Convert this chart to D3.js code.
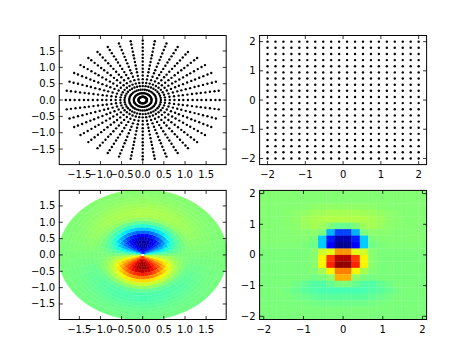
<!DOCTYPE html>
<html>
<head>
<meta charset="utf-8">
<script src="https://cdn.jsdelivr.net/npm/d3@7"></script>
<style>
  body { margin: 0; background: #fff; }
  text { font-family: "DejaVu Sans", sans-serif; font-size: 10px; fill: #000; }
</style>
</head>
<body>
<svg id="fig" width="474" height="355"></svg>
<script>
// ---- data ----
// polar sample grid (top left)
const polarRadii = [0.10, 0.21, 0.32, 0.43, 0.53, 0.64, 0.75, 0.86, 0.96, 1.07, 1.18, 1.29, 1.39, 1.50, 1.61, 1.72, 1.82]
const polarAnglesDeg = [0, 9, 18, 27, 36, 45, 54, 63, 72, 81, 90, 99, 108, 117, 126, 135, 144, 153, 162, 171,
                        180, 189, 198, 207, 216, 225, 234, 243, 252, 261, 270, 279, 288, 297, 306, 315, 324, 333, 342, 351]
// regular grid (top right), same values for x and y
const gridCoords = [-2.000, -1.789, -1.579, -1.368, -1.158, -0.947, -0.737, -0.526, -0.316, -0.105,
                    0.105, 0.316, 0.526, 0.737, 0.947, 1.158, 1.368, 1.579, 1.789, 2.000]
// tick labels
const polarTicks = [-1.5, -1.0, -0.5, 0.0, 0.5, 1.0, 1.5]
const gridTicks = [-2, -1, 0, 1, 2]
// value along the +y direction of the polar field (bottom left); the field goes as profile * sin(angle)
const colourRadii = [0.1, 0.2, 0.3, 0.4, 0.5, 0.6, 0.7, 0.8, 0.9, 1.0, 1.1, 1.2, 1.3, 1.4, 1.5, 1.6, 1.7, 1.8, 1.9]
const colourProfile = [-0.75, -0.9, -0.95, -0.96, -0.9, -0.76, -0.56, -0.36, -0.2, -0.06,
                       0.06, 0.11, 0.12, 0.11, 0.09, 0.07, 0.05, 0.04, 0.03]
// cell values on the regular grid (bottom right), rows from top (y=2) to bottom (y=-2)
const gridValues = [
  [0.02,0.02,0.02,0.02,0.02,0.02,0.02,0.02,0.02,0.02,0.02,0.02,0.02,0.02,0.02,0.02,0.02,0.02,0.02,0.02],
  [0.02,0.02,0.02,0.02,0.02,0.02,0.02,0.02,0.02,0.02,0.02,0.02,0.02,0.02,0.02,0.02,0.02,0.02,0.02,0.02],
  [0.02,0.02,0.02,0.02,0.02,0.03,0.04,0.05,0.05,0.05,0.05,0.05,0.05,0.04,0.03,0.02,0.02,0.02,0.02,0.02],
  [0.02,0.02,0.02,0.03,0.04,0.06,0.08,0.09,0.10,0.10,0.10,0.10,0.09,0.08,0.06,0.04,0.03,0.02,0.02,0.02],
  [0.02,0.02,0.02,0.03,0.05,0.08,0.10,0.12,0.13,0.13,0.13,0.13,0.12,0.10,0.08,0.05,0.03,0.02,0.02,0.02],
  [0.02,0.02,0.02,0.03,0.04,0.07,0.10,0.08,0.00,-0.05,-0.05,0.00,0.08,0.10,0.07,0.04,0.03,0.02,0.02,0.02],
  [0.02,0.02,0.02,0.02,0.03,0.03,0.04,0.00,-0.40,-0.62,-0.62,-0.40,0.00,0.04,0.03,0.03,0.02,0.02,0.02,0.02],
  [0.02,0.02,0.02,0.02,0.02,0.02,0.00,-0.35,-0.70,-0.92,-0.92,-0.70,-0.35,0.00,0.02,0.02,0.02,0.02,0.02,0.02],
  [0.01,0.01,0.01,0.01,0.01,0.00,-0.03,-0.35,-0.75,-0.97,-0.97,-0.75,-0.35,-0.03,0.00,0.01,0.01,0.01,0.01,0.01],
  [0.00,0.00,0.00,0.00,0.00,0.00,0.03,0.20,0.25,0.50,0.50,0.25,0.20,0.03,0.00,0.00,0.00,0.00,0.00,0.00],
  [0.00,0.00,0.00,0.00,0.00,0.00,0.03,0.30,0.70,0.90,0.90,0.70,0.30,0.03,0.00,0.00,0.00,0.00,0.00,0.00],
  [0.00,0.00,0.00,0.00,0.00,0.00,0.03,0.30,0.75,0.97,0.97,0.75,0.30,0.03,0.00,0.00,0.00,0.00,0.00,0.00],
  [0.00,0.00,0.00,0.00,0.00,0.00,0.02,0.10,0.30,0.55,0.55,0.30,0.10,0.02,0.00,0.00,0.00,0.00,0.00,0.00],
  [0.00,0.00,0.00,0.00,0.00,0.00,-0.02,0.00,0.05,0.45,0.45,0.05,0.00,-0.02,0.00,0.00,0.00,0.00,0.00,0.00],
  [0.00,0.00,0.00,0.00,-0.03,-0.06,-0.10,-0.10,-0.05,0.00,0.00,-0.05,-0.10,-0.10,-0.06,-0.03,0.00,0.00,0.00,0.00],
  [0.00,0.00,0.00,-0.02,-0.05,-0.08,-0.10,-0.12,-0.13,-0.13,-0.13,-0.13,-0.12,-0.10,-0.08,-0.05,-0.02,0.00,0.00,0.00],
  [0.00,0.00,0.00,0.00,-0.02,-0.04,-0.06,-0.08,-0.08,-0.08,-0.08,-0.08,-0.08,-0.06,-0.04,-0.02,0.00,0.00,0.00,0.00],
  [0.00,0.00,0.00,0.00,0.00,-0.01,-0.02,-0.03,-0.03,-0.03,-0.03,-0.03,-0.03,-0.02,-0.01,0.00,0.00,0.00,0.00,0.00],
  [0.00,0.00,0.00,0.00,0.00,0.00,0.00,0.00,0.00,0.00,0.00,0.00,0.00,0.00,0.00,0.00,0.00,0.00,0.00,0.00],
  [0.00,0.00,0.00,0.00,0.00,0.00,0.00,0.00,0.00,0.00,0.00,0.00,0.00,0.00,0.00,0.00,0.00,0.00,0.00,0.00]
]

// ---- layout ----
const svg = d3.select("#fig")
const polarLim = 1.975
const gridLim = 2.21
const cellLim = 2.105

// matplotlib "jet"
const jetR = d3.scaleLinear().domain([0, 0.35, 0.66, 0.89, 1]).range([0, 0, 1, 1, 0.5]).clamp(true)
const jetG = d3.scaleLinear().domain([0, 0.125, 0.375, 0.64, 0.91, 1]).range([0, 0, 1, 1, 0, 0]).clamp(true)
const jetB = d3.scaleLinear().domain([0, 0.11, 0.34, 0.65, 1]).range([0.5, 1, 1, 0, 0]).clamp(true)
const colourT = d3.scaleLinear().domain([-1, 1]).range([0, 1]).clamp(true)
function jet(v) {
    const t = colourT(v)
    return d3.rgb(jetR(t) * 255, jetG(t) * 255, jetB(t) * 255).formatHex()
}

function makePanel(id, box, lim, ticks, fmt) {
    const x = d3.scaleLinear().domain([-lim[0], lim[0]]).range([box.x0, box.x1])
    const y = d3.scaleLinear().domain([-lim[1], lim[1]]).range([box.y1, box.y0])
    svg.append("clipPath").attr("id", "clip-" + id)
       .append("rect")
       .attr("x", box.x0).attr("y", box.y0)
       .attr("width", box.x1 - box.x0).attr("height", box.y1 - box.y0)
    const plot = svg.append("g").attr("clip-path", "url(#clip-" + id + ")")
    return { x: x, y: y, box: box, plot: plot, ticks: ticks, fmt: fmt }
}

function drawFrame(p) {
    const b = p.box, tl = 3.5
    const g = svg.append("g")
    p.ticks.forEach(function (v) {
        const px = p.x(v), py = p.y(v)
        g.append("line").attr("x1", px).attr("x2", px).attr("y1", b.y1).attr("y2", b.y1 - tl)
        g.append("line").attr("x1", px).attr("x2", px).attr("y1", b.y0).attr("y2", b.y0 + tl)
        g.append("line").attr("y1", py).attr("y2", py).attr("x1", b.x0).attr("x2", b.x0 + tl)
        g.append("line").attr("y1", py).attr("y2", py).attr("x1", b.x1).attr("x2", b.x1 - tl)
        g.append("text").attr("x", px).attr("y", b.y1 + 13)
         .attr("text-anchor", "middle").text(p.fmt(v))
        g.append("text").attr("x", b.x0 - 4).attr("y", py)
         .attr("text-anchor", "end").attr("dominant-baseline", "central").text(p.fmt(v))
    })
    g.selectAll("line").attr("stroke", "#000").attr("stroke-width", 0.8)
    g.append("rect")
     .attr("x", b.x0).attr("y", b.y0)
     .attr("width", b.x1 - b.x0).attr("height", b.y1 - b.y0)
     .attr("fill", "none").attr("stroke", "#000").attr("stroke-width", 1)
}

const fmt1 = d3.format(".1f")
const fmt0 = d3.format("d")
const boxes = {
    tl: { x0: 59.25, x1: 226.2, y0: 35.5, y1: 164.6 },
    tr: { x0: 259.6, x1: 426.6, y0: 35.5, y1: 164.6 },
    bl: { x0: 59.25, x1: 226.2, y0: 190.4, y1: 319.5 },
    br: { x0: 259.6, x1: 426.6, y0: 190.4, y1: 319.5 }
}

// ---- top left: polar sample points ----
const pTL = makePanel("tl", boxes.tl, [polarLim, polarLim], polarTicks, fmt1)
const polarPoints = []
polarRadii.forEach(function (r) {
    polarAnglesDeg.forEach(function (a) {
        polarPoints.push({ x: r * Math.cos(a * Math.PI / 180), y: r * Math.sin(a * Math.PI / 180) })
    })
})
pTL.plot.selectAll("circle").data(polarPoints).enter().append("circle")
   .attr("cx", d => pTL.x(d.x)).attr("cy", d => pTL.y(d.y))
   .attr("r", 1.2).attr("fill", "#000")
drawFrame(pTL)

// ---- top right: regular grid points ----
const pTR = makePanel("tr", boxes.tr, [gridLim, gridLim], gridTicks, fmt0)
const gridPoints = []
gridCoords.forEach(function (gy) {
    gridCoords.forEach(function (gx) { gridPoints.push({ x: gx, y: gy }) })
})
pTR.plot.selectAll("circle").data(gridPoints).enter().append("circle")
   .attr("cx", d => pTR.x(d.x)).attr("cy", d => pTR.y(d.y))
   .attr("r", 1.2).attr("fill", "#000")
drawFrame(pTR)

// ---- bottom left: field on polar cells ----
const pBL = makePanel("bl", boxes.bl, [polarLim, polarLim], polarTicks, fmt1)
const halfStep = 4.5
const polarCells = []
colourRadii.forEach(function (r, i) {
    const rIn = i === 0 ? 0.05 : (colourRadii[i - 1] + r) / 2
    const rOut = i === colourRadii.length - 1 ? 2.0 : (colourRadii[i + 1] + r) / 2
    polarAnglesDeg.forEach(function (a) {
        const pts = []
        for (let k = 0; k <= 4; k++) {
            const t = (a - halfStep + k * halfStep / 2) * Math.PI / 180
            pts.push([rOut * Math.cos(t), rOut * Math.sin(t)])
        }
        for (let k = 4; k >= 0; k--) {
            const t = (a - halfStep + k * halfStep / 2) * Math.PI / 180
            pts.push([rIn * Math.cos(t), rIn * Math.sin(t)])
        }
        polarCells.push({ pts: pts, v: colourProfile[i] * Math.sin(a * Math.PI / 180) })
    })
})
pBL.plot.selectAll("path").data(polarCells).enter().append("path")
   .attr("d", d => "M" + d.pts.map(q => pBL.x(q[0]) + "," + pBL.y(q[1])).join("L") + "Z")
   .attr("fill", d => jet(d.v))
   .attr("stroke", d => jet(d.v)).attr("stroke-width", 0.4)
drawFrame(pBL)

// ---- bottom right: field on regular cells ----
const pBR = makePanel("br", boxes.br, [cellLim, cellLim], gridTicks, fmt0)
const step = gridCoords[1] - gridCoords[0]
const cells = []
gridValues.forEach(function (row, i) {
    row.forEach(function (v, j) {
        cells.push({ x: gridCoords[j], y: gridCoords[gridCoords.length - 1 - i], v: v })
    })
})
pBR.plot.selectAll("rect").data(cells).enter().append("rect")
   .attr("x", d => pBR.x(d.x - step / 2))
   .attr("y", d => pBR.y(d.y + step / 2))
   .attr("width", d => pBR.x(d.x + step / 2) - pBR.x(d.x - step / 2) + 0.3)
   .attr("height", d => pBR.y(d.y - step / 2) - pBR.y(d.y + step / 2) + 0.3)
   .attr("fill", d => jet(d.v))
drawFrame(pBR)
</script>
</body>
</html>
